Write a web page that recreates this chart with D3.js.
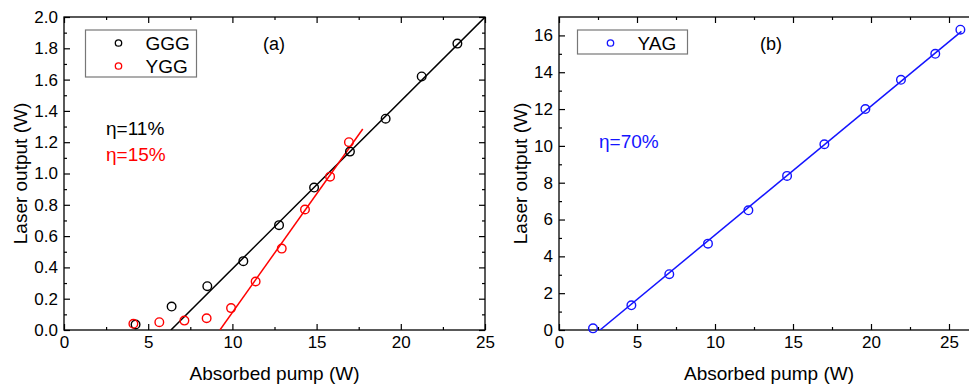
<!DOCTYPE html>
<html><head><meta charset="utf-8">
<script src="https://cdn.jsdelivr.net/npm/d3@7"></script>
<style>
html,body{margin:0;padding:0;background:#fff;}
svg{display:block;}
text{font-family:"Liberation Sans",Arial,sans-serif;}
</style></head>
<body>
<svg id="chart" width="969" height="386"></svg>
<script>
// ---- data ----
const gggPump   = [4.25, 6.39, 8.51, 10.65, 12.77, 14.85, 16.98, 19.1, 21.24, 23.36];
const gggOutput = [0.035, 0.15, 0.28, 0.44, 0.67, 0.91, 1.14, 1.35, 1.62, 1.83];
const yggPump   = [4.12, 5.66, 7.15, 8.47, 9.92, 11.38, 12.93, 14.31, 15.8, 16.92];
const yggOutput = [0.04, 0.05, 0.06, 0.075, 0.14, 0.31, 0.52, 0.77, 0.98, 1.20];
const yagPump   = [2.18, 4.64, 7.07, 9.55, 12.14, 14.62, 17.01, 19.64, 21.92, 24.12, 25.73];
const yagOutput = [0.09, 1.34, 3.03, 4.69, 6.50, 8.37, 10.09, 12.0, 13.59, 15.0, 16.31];
// linear fits: [threshold, slope, end of fitted range]
const gggFit = [6.35, 0.1072, 25.0];
const yggFit = [9.26, 0.1515, 17.74];
const yagFit = [2.63, 0.70, 25.8];
const xTicksA = [0, 5, 10, 15, 20, 25];
const yTicksA = [0.0, 0.2, 0.4, 0.6, 0.8, 1.0, 1.2, 1.4, 1.6, 1.8, 2.0];
const xTicksB = [0, 5, 10, 15, 20, 25];
const yTicksB = [0, 2, 4, 6, 8, 10, 12, 14, 16];
const labelsA = ["GGG", "YGG"];
const labelsB = ["YAG"];
const etaA = ["η=11%", "η=15%"];
const etaB = ["η=70%"];

const svg = d3.select("#chart");

function panel(opt) {
  const g = svg.append("g");
  const x = d3.scaleLinear().domain(opt.xDomain).range([opt.left, opt.right]);
  const y = d3.scaleLinear().domain(opt.yDomain).range([opt.bottom, opt.top]);
  const clipId = "clip" + opt.id;
  svg.append("clipPath").attr("id", clipId).append("rect")
    .attr("x", opt.left).attr("y", opt.top)
    .attr("width", opt.right - opt.left).attr("height", opt.bottom - opt.top);

  const fs = 17;
  const minorAxis = (ax, vals) => ax.tickValues(vals).tickFormat("").tickSize(-3);
  const majorAxis = (ax, vals, fmt) => ax.tickValues(vals).tickFormat(fmt).tickSize(-6).tickPadding(6);

  g.append("g").attr("transform", `translate(0,${opt.bottom})`).call(majorAxis(d3.axisBottom(x), opt.xTicks, d3.format("d")));
  g.append("g").attr("transform", `translate(0,${opt.bottom})`).call(minorAxis(d3.axisBottom(x), opt.xMinor));
  g.append("g").attr("transform", `translate(0,${opt.top})`).call(majorAxis(d3.axisTop(x), opt.xTicks, ""));
  g.append("g").attr("transform", `translate(0,${opt.top})`).call(minorAxis(d3.axisTop(x), opt.xMinor));
  g.append("g").attr("transform", `translate(${opt.left},0)`).call(majorAxis(d3.axisLeft(y), opt.yTicks, opt.yFmt));
  g.append("g").attr("transform", `translate(${opt.left},0)`).call(minorAxis(d3.axisLeft(y), opt.yMinor));
  g.append("g").attr("transform", `translate(${opt.right},0)`).call(majorAxis(d3.axisRight(y), opt.yTicks, ""));
  g.append("g").attr("transform", `translate(${opt.right},0)`).call(minorAxis(d3.axisRight(y), opt.yMinor));
  g.selectAll(".domain").remove();
  g.selectAll(".tick line").attr("stroke", "#000").attr("stroke-width", 1.2);
  g.selectAll(".tick text").attr("font-size", fs).attr("fill", "#000")
    .attr("font-family", "'Liberation Sans',Arial,sans-serif");

  g.append("rect").attr("x", opt.left).attr("y", opt.top)
    .attr("width", opt.right - opt.left).attr("height", opt.bottom - opt.top)
    .attr("fill", "none").attr("stroke", "#000").attr("stroke-width", 1.3);

  g.append("text").attr("x", (opt.left + Math.min(opt.right, 969)) / 2 + opt.xTitleShift).attr("y", 380)
    .attr("text-anchor", "middle").attr("font-size", 19).text("Absorbed pump (W)");
  g.append("text").attr("transform", `translate(${opt.yTitleX},${(opt.top + opt.bottom) / 2}) rotate(-90)`)
    .attr("text-anchor", "middle").attr("font-size", 19).text("Laser output (W)");

  const plot = g.append("g").attr("clip-path", `url(#${clipId})`);
  opt.series.forEach(s => {
    const fitPts = [[s.fit[0], 0], [s.fit[2], s.fit[1] * (s.fit[2] - s.fit[0])]];
    plot.append("path").datum(fitPts)
      .attr("d", d3.line().x(d => x(d[0])).y(d => y(d[1])))
      .attr("fill", "none").attr("stroke", s.color).attr("stroke-width", 1.5);
  });
  opt.series.forEach(s => {
    g.selectAll(null).data(s.xs.map((v, i) => [v, s.ys[i]])).enter().append("circle")
      .attr("cx", d => x(d[0])).attr("cy", d => y(d[1])).attr("r", 4.3)
      .attr("fill", "none").attr("stroke", s.color).attr("stroke-width", 1.4);
  });

  const lg = opt.legend;
  g.append("rect").attr("x", lg.x).attr("y", lg.y).attr("width", lg.w).attr("height", lg.h)
    .attr("fill", "#fff").attr("stroke", "#777").attr("stroke-width", 1.2);
  opt.series.forEach((s, i) => {
    const cy = lg.y + 13 + i * 23;
    g.append("circle").attr("cx", lg.x + 33).attr("cy", cy).attr("r", 3.2)
      .attr("fill", "none").attr("stroke", s.color).attr("stroke-width", 1.3);
    g.append("text").attr("x", lg.x + 60).attr("y", cy + 7).attr("font-size", 19).text(s.label);
  });

  g.append("text").attr("x", opt.tagX).attr("y", 50).attr("text-anchor", "middle")
    .attr("font-size", 18).text(opt.tag);
  opt.eta.forEach((e, i) => {
    g.append("text").attr("x", opt.etaX).attr("y", opt.etaY + i * 26).attr("font-size", 19)
      .attr("fill", opt.series[i].color).text(e);
  });
}

panel({
  id: "a", left: 64, right: 485, top: 17, bottom: 330,
  xDomain: [0, 25], yDomain: [0, 2.0],
  xTicks: xTicksA, yTicks: yTicksA,
  xMinor: d3.range(2.5, 25, 5), yMinor: d3.range(0.1, 2.0, 0.2),
  yFmt: d3.format(".1f"),
  xTitleShift: 0, yTitleX: 27,
  series: [
    {label: labelsA[0], color: "#000000", xs: gggPump, ys: gggOutput, fit: gggFit},
    {label: labelsA[1], color: "#ff0000", xs: yggPump, ys: yggOutput, fit: yggFit}
  ],
  legend: {x: 85.5, y: 30, w: 111, h: 47},
  tag: "(a)", tagX: 274,
  eta: etaA, etaX: 106, etaY: 135
});

panel({
  id: "b", left: 559, right: 559 + 15.6 * 27, top: 17, bottom: 330,
  xDomain: [0, 27], yDomain: [0, 17],
  xTicks: xTicksB, yTicks: yTicksB,
  xMinor: d3.range(2.5, 27, 5), yMinor: d3.range(1, 17, 2),
  yFmt: d3.format("d"),
  xTitleShift: 5, yTitleX: 527,
  series: [
    {label: labelsB[0], color: "#1414ff", xs: yagPump, ys: yagOutput, fit: yagFit}
  ],
  legend: {x: 577.5, y: 30, w: 110, h: 24},
  tag: "(b)", tagX: 771,
  eta: etaB, etaX: 599, etaY: 148
});
</script>
</body></html>
